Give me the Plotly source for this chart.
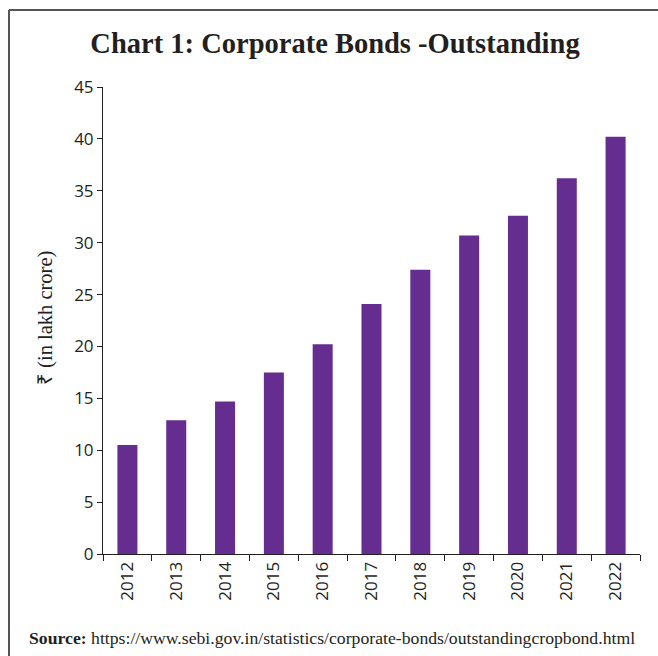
import plotly.graph_objects as go

years = ["2012", "2013", "2014", "2015", "2016", "2017", "2018", "2019", "2020", "2021", "2022"]
outstanding = [10.5, 12.9, 14.7, 17.5, 20.2, 24.1, 27.4, 30.7, 32.6, 36.2, 40.2]
y_ticks = [0, 5, 10, 15, 20, 25, 30, 35, 40, 45]

W, H = 658, 656
L, R, T, B = 103, 18, 87, 102
pw, ph = W - L - R, H - T - B

def px(x):
    return (x - L) / pw

def py(y):
    return (H - B - y) / ph

fig = go.Figure(go.Bar(
    x=years, y=outstanding,
    marker=dict(color="#662d91", line=dict(width=0)),
    width=0.41,
))

fig.update_layout(
    width=W, height=H,
    margin=dict(l=L, r=R, t=T, b=B),
    paper_bgcolor="white", plot_bgcolor="white",
    showlegend=False,
    title=dict(text="<b>Chart 1: Corporate Bonds -Outstanding</b>",
               xref="container", yref="container",
               x=335 / W, xanchor="center", y=1 - 43 / H, yanchor="middle",
               font=dict(family="Liberation Serif, serif", size=28.5, color="#231f20")),
    font=dict(family="Open Sans, sans-serif", color="#231f20"),
)

fig.update_xaxes(
    type="category", showline=True, linecolor="#231f20", linewidth=1,
    ticks="outside", tickson="boundaries", ticklen=6, tickcolor="#231f20",
    tickangle=-90, tickfont=dict(size=17, color="#231f20", family="Open Sans, sans-serif"),
    showgrid=False, zeroline=False,
)
fig.update_yaxes(
    range=[0, 45], tickvals=y_ticks, showline=True, linecolor="#231f20", linewidth=1,
    ticks="outside", ticklen=5, tickcolor="#231f20",
    tickfont=dict(size=17, color="#231f20", family="Open Sans, sans-serif"),
    showgrid=False, zeroline=False,
)

fig.add_annotation(
    text="₹ (in lakh crore)", textangle=-90,
    xref="paper", yref="paper", x=px(45), y=py(318), xanchor="center", yanchor="middle",
    showarrow=False, font=dict(family="Liberation Serif, serif", size=20.5, color="#231f20"),
)

fig.add_annotation(
    text="<b>Source:</b> https://www.sebi.gov.in/statistics/corporate-bonds/outstandingcropbond.html",
    xref="paper", yref="paper", x=px(27), y=py(638), xanchor="left", yanchor="middle",
    showarrow=False, font=dict(family="Liberation Serif, serif", size=17.7, color="#231f20"),
)

# frame lines (top and left)
fig.add_shape(type="line", xref="paper", yref="paper", x0=px(9), x1=px(W + 5), y0=py(10), y1=py(10),
              line=dict(color="#555555", width=2))
fig.add_shape(type="line", xref="paper", yref="paper", x0=px(9), x1=px(9), y0=py(10), y1=py(H + 5),
              line=dict(color="#555555", width=2))

fig.write_html("out.html", config={"displayModeBar": False},
               post_script="document.body.style.margin='0px';")
